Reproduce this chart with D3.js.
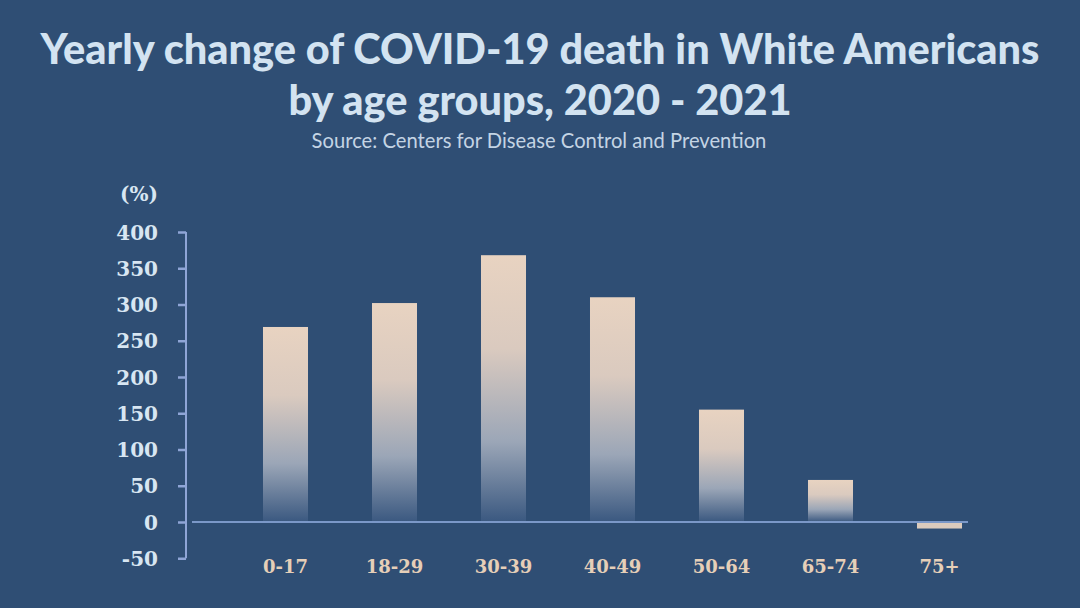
<!DOCTYPE html>
<html><head><meta charset="utf-8">
<script src="https://cdn.jsdelivr.net/npm/d3@7"></script>
<style>body{margin:0;background:#2f4e74;}svg{display:block;}</style>
</head><body>
<script>
const categories = ["0-17","18-29","30-39","40-49","50-64","65-74","75+"];
const values = [269, 302, 368, 310, 155, 58, -9];
const yTicks = [-50, 0, 50, 100, 150, 200, 250, 300, 350, 400];

const W = 1080, H = 608;
const svg = d3.select("body").append("svg").attr("width", W).attr("height", H);
svg.append("rect").attr("width", W).attr("height", H).attr("fill", "#2f4e74");

const defs = svg.append("defs");
const gPos = defs.append("linearGradient").attr("id","gpos").attr("x1",0).attr("y1",0).attr("x2",0).attr("y2",1);
gPos.append("stop").attr("offset","0%").attr("stop-color","#e8d3c1");
gPos.append("stop").attr("offset","35%").attr("stop-color","#dacabf");
gPos.append("stop").attr("offset","70%").attr("stop-color","#9ba6b7");
gPos.append("stop").attr("offset","100%").attr("stop-color","#3a5880");

const x = d3.scaleBand().domain(categories).range([231, 994]).paddingInner(0.587).paddingOuter(0.2935);
const y = d3.scaleLinear().domain([-50, 400]).range([558.25, 232]);

// title
svg.append("text").attr("x", 540).attr("y", 64).attr("text-anchor","middle")
  .attr("font-family","Lato").attr("font-weight",900).attr("font-size",41.5).attr("fill","#d3e3f1")
  .text("Yearly change of COVID-19 death in White Americans");
svg.append("text").attr("x", 540).attr("y", 115).attr("text-anchor","middle")
  .attr("font-family","Lato").attr("font-weight",900).attr("font-size",41.5).attr("fill","#d3e3f1")
  .text("by age groups, 2020 - 2021");
svg.append("text").attr("x", 539).attr("y", 148).attr("text-anchor","middle")
  .attr("font-family","Lato").attr("font-size",20.2).attr("fill","#c4d4e4")
  .text("Source: Centers for Disease Control and Prevention");

// y axis
const yAxis = d3.axisLeft(y).tickValues(yTicks).tickSize(8).tickPadding(20).tickSizeOuter(0)
  .tickFormat(d => String(d));
const ga = svg.append("g").attr("transform","translate(186,0)").call(yAxis);
ga.select(".domain").attr("stroke","#8fa5d6").attr("stroke-width",2);
ga.selectAll(".tick line").attr("stroke","#8fa5d6").attr("stroke-width",2.5);
ga.selectAll(".tick text").attr("fill","#d8e6f2").attr("font-family","DejaVu Serif")
  .attr("font-weight","bold").attr("font-size",20).attr("dy","0.35em");
ga.select(".domain").attr("d", `M0,${y(400)}V${y(-50)}`);

svg.append("text").attr("x", 139).attr("y", 201).attr("text-anchor","middle")
  .attr("font-family","DejaVu Serif").attr("font-weight","bold").attr("font-size",20).attr("fill","#d8e6f2")
  .text("(%)");

// bars
svg.selectAll("rect.bar").data(values).enter().append("rect").attr("class","bar")
  .attr("x", (d,i) => x(categories[i]))
  .attr("width", x.bandwidth())
  .attr("y", d => d >= 0 ? y(d) : y(0))
  .attr("height", d => Math.abs(y(d) - y(0)))
  .attr("fill", d => d >= 0 ? "url(#gpos)" : "#dccbbd");

// baseline
svg.append("line").attr("x1",192).attr("x2",968).attr("y1",y(0)).attr("y2",y(0))
  .attr("stroke","#7b98c8").attr("stroke-width",2);

// x labels
svg.selectAll("text.xl").data(categories).enter().append("text").attr("class","xl")
  .attr("x", d => x(d) + x.bandwidth()/2).attr("y", 573).attr("text-anchor","middle")
  .attr("font-family","DejaVu Serif").attr("font-weight","bold").attr("font-size",18).attr("fill","#e6cfb8")
  .text(d => d);
</script>
</body></html>
